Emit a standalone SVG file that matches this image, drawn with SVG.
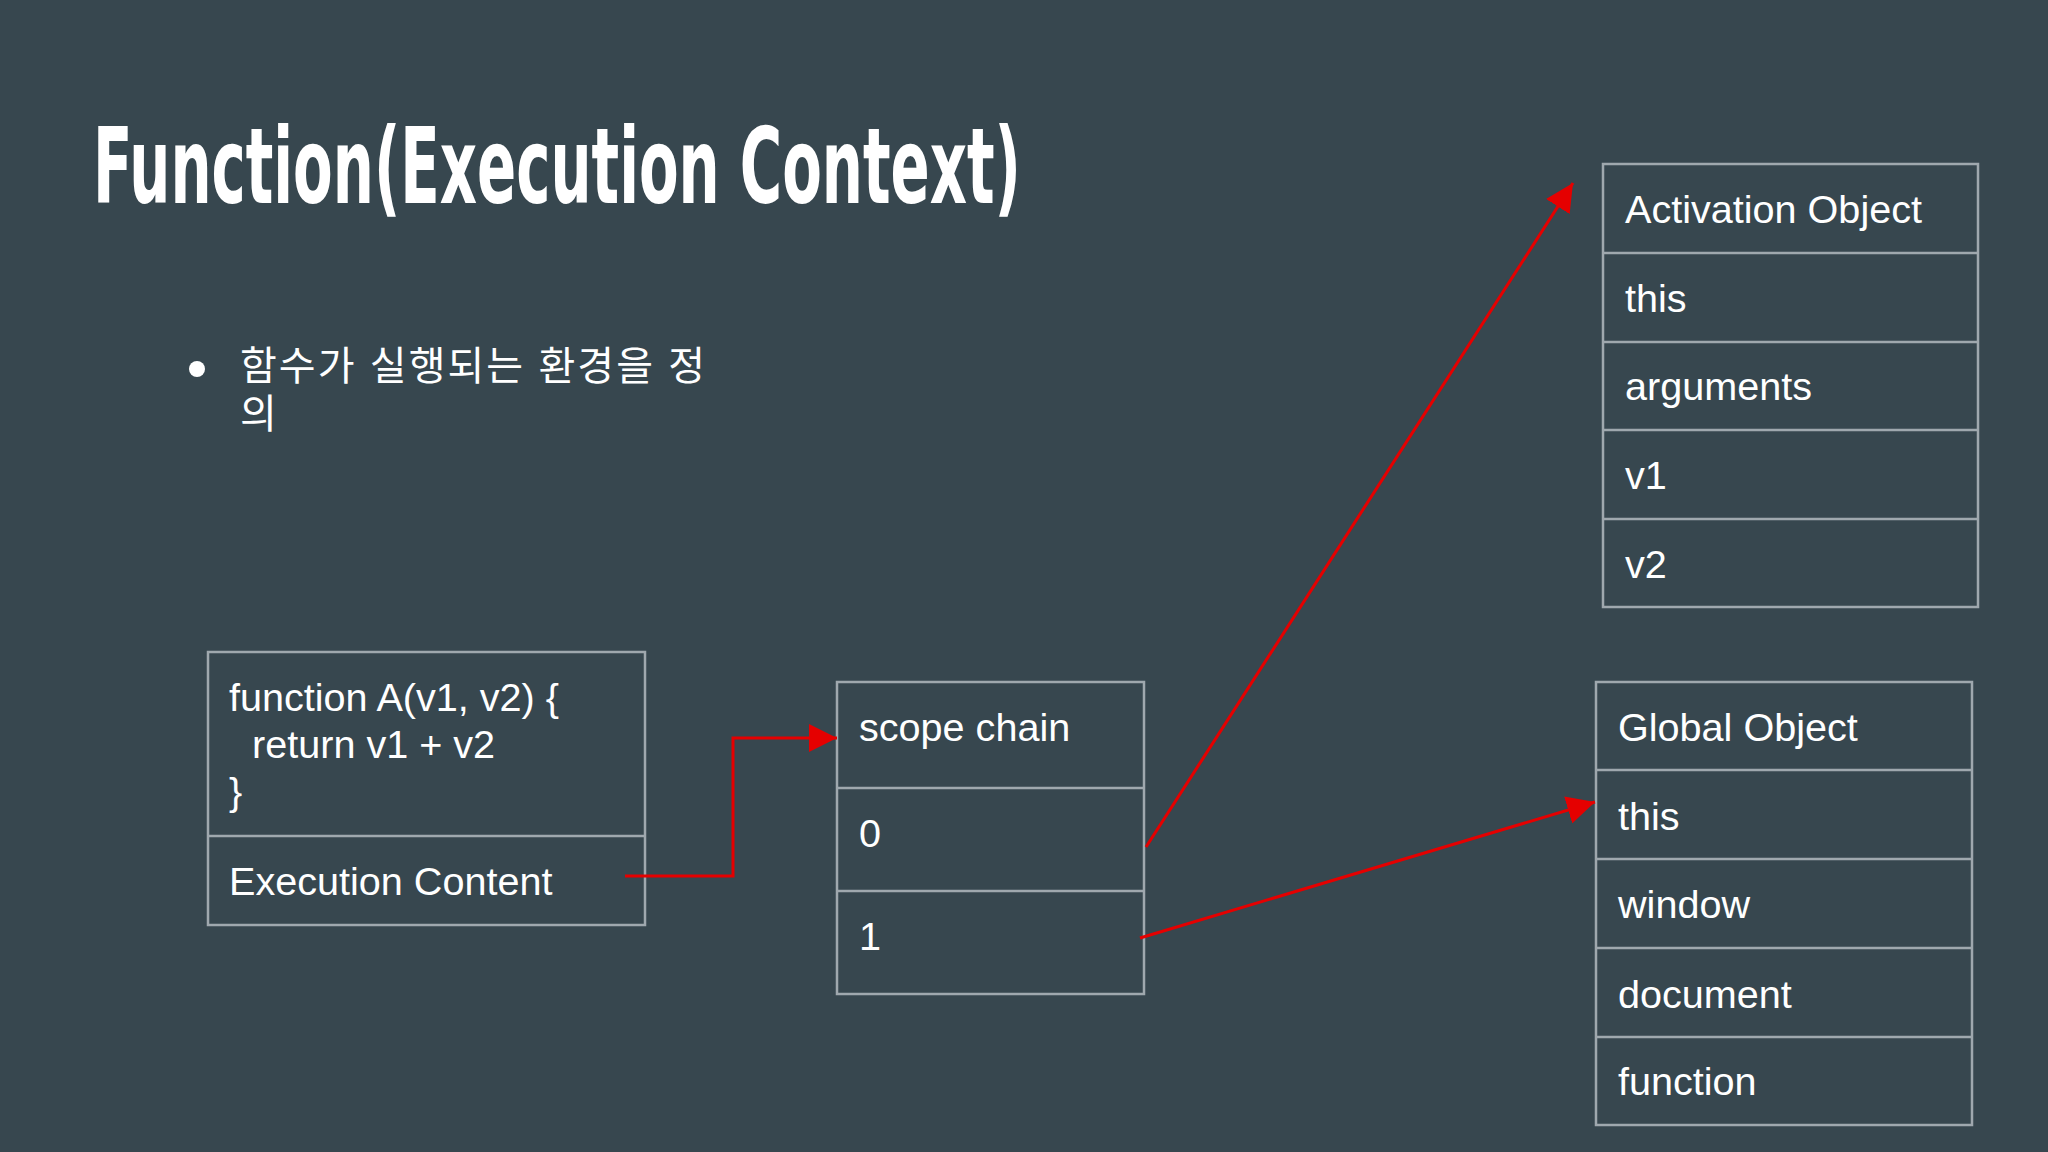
<svg xmlns="http://www.w3.org/2000/svg" width="2048" height="1152" viewBox="0 0 2048 1152">
  <style>
    .box { fill: none; stroke: #9fa8ae; stroke-width: 2.5; }
    .div { stroke: #9fa8ae; stroke-width: 2.5; }
    .t { font-family: "Liberation Sans", Arial, sans-serif; font-size: 39.6px; fill: #ffffff; }
    .title { font-family: "Liberation Sans Narrow", "DejaVu Sans Condensed", "Liberation Sans", sans-serif; font-size: 105px; font-weight: bold; fill: #ffffff; }
    .kr { font-family: "Liberation Sans", "Noto Sans CJK KR", sans-serif; font-size: 40px; fill: #ffffff; }
    .conn { fill: none; stroke: #e50000; stroke-width: 3; }
  </style>
  <defs>
    <marker id="arrow" markerUnits="userSpaceOnUse" markerWidth="28" markerHeight="28" refX="28" refY="14" orient="auto">
      <path d="M0,0 L28,14 L0,28 z" fill="#e50000"/>
    </marker>
  </defs>
  <rect width="2048" height="1152" fill="#37474f"/>

  <g id="title">
    <text class="title" x="93" y="203" textLength="928" lengthAdjust="spacingAndGlyphs">Function(Execution Context)</text>
  </g>

  <g id="bullet">
    <circle cx="197" cy="369" r="8" fill="#ffffff"/>
    <text class="kr" x="240" y="380" textLength="465">함수가 실행되는 환경을 정</text>
    <text class="kr" x="240" y="428">의</text>
  </g>

  <g id="function-box">
    <rect class="box" x="208" y="652" width="437" height="273"/>
    <line class="div" x1="208" y1="836" x2="645" y2="836"/>
    <text class="t" x="229" y="711">function A(v1, v2) {</text>
    <text class="t" x="252" y="758">return v1 + v2</text>
    <text class="t" x="229" y="805">}</text>
    <text class="t" x="229" y="895">Execution Content</text>
  </g>

  <g id="scope-chain">
    <rect class="box" x="837" y="682" width="307" height="312"/>
    <line class="div" x1="837" y1="788" x2="1144" y2="788"/>
    <line class="div" x1="837" y1="891" x2="1144" y2="891"/>
    <text class="t" x="859" y="741">scope chain</text>
    <text class="t" x="859" y="847">0</text>
    <text class="t" x="859" y="950">1</text>
  </g>

  <g id="activation-object">
    <rect class="box" x="1603" y="164" width="375" height="443"/>
    <line class="div" x1="1603" y1="253" x2="1978" y2="253"/>
    <line class="div" x1="1603" y1="342" x2="1978" y2="342"/>
    <line class="div" x1="1603" y1="430" x2="1978" y2="430"/>
    <line class="div" x1="1603" y1="519" x2="1978" y2="519"/>
    <text class="t" x="1625" y="223">Activation Object</text>
    <text class="t" x="1625" y="312">this</text>
    <text class="t" x="1625" y="400">arguments</text>
    <text class="t" x="1625" y="489">v1</text>
    <text class="t" x="1625" y="578">v2</text>
  </g>

  <g id="global-object">
    <rect class="box" x="1596" y="682" width="376" height="443"/>
    <line class="div" x1="1596" y1="770" x2="1972" y2="770"/>
    <line class="div" x1="1596" y1="859" x2="1972" y2="859"/>
    <line class="div" x1="1596" y1="948" x2="1972" y2="948"/>
    <line class="div" x1="1596" y1="1037" x2="1972" y2="1037"/>
    <text class="t" x="1618" y="741">Global Object</text>
    <text class="t" x="1618" y="830">this</text>
    <text class="t" x="1618" y="918">window</text>
    <text class="t" x="1618" y="1008">document</text>
    <text class="t" x="1618" y="1095">function</text>
  </g>

  <g id="connectors">
    <path class="conn" d="M625,876 H733 V738 H837" marker-end="url(#arrow)"/>
    <path class="conn" d="M1146,847 L1573,183" marker-end="url(#arrow)"/>
    <path class="conn" d="M1140,938 L1595,802" marker-end="url(#arrow)"/>
  </g>
</svg>
